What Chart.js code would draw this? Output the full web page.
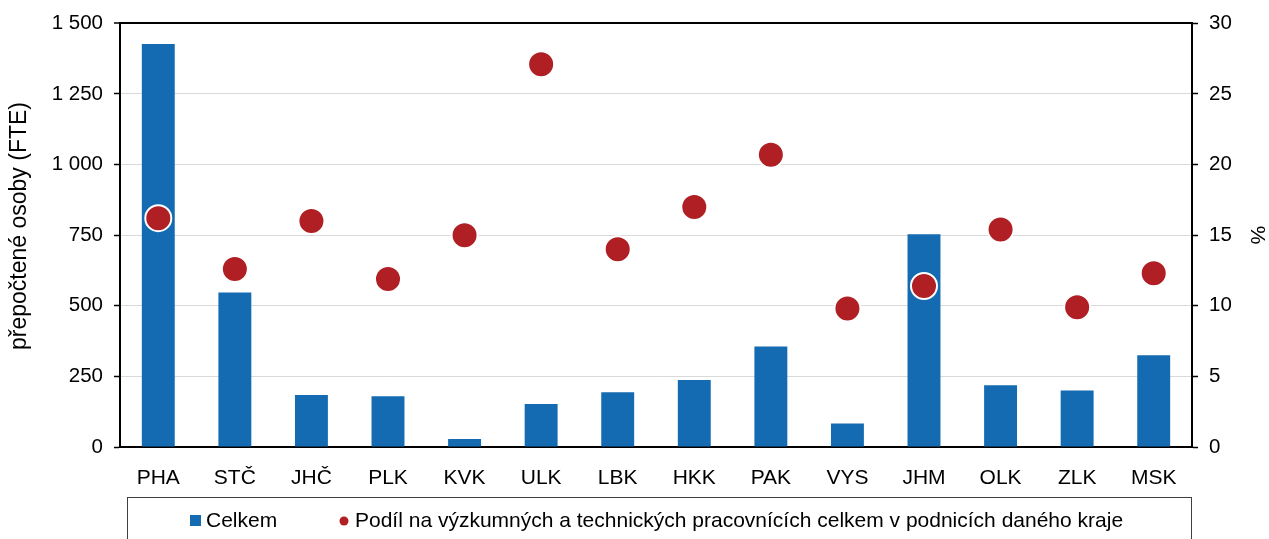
<!DOCTYPE html>
<html>
<head>
<meta charset="utf-8">
<script src="https://cdn.jsdelivr.net/npm/chart.js@4"></script>
<style>
  html, body { margin: 0; padding: 0; background: #fff; }
  #wrap { width: 1269px; height: 539px; }
</style>
</head>
<body>
<div id="wrap"><canvas id="c" width="1269" height="539"></canvas></div>
<script>
const categories = ['PHA','STČ','JHČ','PLK','KVK','ULK','LBK','HKK','PAK','VYS','JHM','OLK','ZLK','MSK'];
const celkem = [1427, 547, 184, 180, 28, 152, 194, 237, 356, 83, 753, 219, 200, 325];
const podil = [16.2, 12.6, 16.0, 11.9, 15.0, 27.1, 14.0, 17.0, 20.7, 9.8, 11.4, 15.4, 9.9, 12.3];
const seriesNames = ['Celkem', 'Podíl na výzkumných a technických pracovnících celkem v podnicích daného kraje'];
const leftTitle = 'přepočtené osoby (FTE)';
const rightTitle = '%';

const BLUE = '#156BB1';
const RED = '#B01F24';
const FONT = "'Liberation Sans', Arial, sans-serif";

const fmt = v => {
  const s = String(Math.round(v));
  return s.replace(/\B(?=(\d{3})+(?!\d))/g, ' ');
};

const legendPlugin = {
  id: 'boxLegend',
  afterDraw(chart) {
    const ctx = chart.ctx;
    const ca = chart.chartArea;
    ctx.save();
    // left axis title
    ctx.save();
    ctx.translate(20, 226);
    ctx.rotate(-Math.PI / 2);
    ctx.font = '23px ' + FONT;
    ctx.fillStyle = '#000';
    ctx.textAlign = 'center';
    ctx.textBaseline = 'middle';
    ctx.fillText(chart.options.scales.y.title.text, 0, 0);
    ctx.restore();

    const top = ca.bottom + 50;
    ctx.strokeStyle = '#404040';
    ctx.lineWidth = 1;
    ctx.strokeRect(127.5, top + 0.5, ca.right - 128, 60);
    const cy = top + 24;
    ctx.font = '21px ' + FONT;
    ctx.textBaseline = 'middle';
    const ds = chart.data.datasets;
    const barDs = ds.find(d => d.type === 'bar');
    const dotDs = ds.find(d => d.type === 'line');
    ctx.fillStyle = barDs.backgroundColor;
    ctx.fillRect(190, cy - 6, 11, 11);
    ctx.fillStyle = '#000';
    ctx.fillText(barDs.label, 206, cy);
    ctx.fillStyle = dotDs.backgroundColor;
    ctx.beginPath();
    ctx.arc(344, cy, 4.5, 0, Math.PI * 2);
    ctx.fill();
    ctx.fillStyle = '#000';
    ctx.fillText(dotDs.label, 355, cy);
    ctx.restore();
  }
};

new Chart(document.getElementById('c'), {
  type: 'bar',
  data: {
    labels: categories,
    datasets: [
      {
        type: 'line',
        label: seriesNames[1],
        data: podil,
        yAxisID: 'y2',
        showLine: false,
        backgroundColor: RED,
        borderColor: '#ffffff',
        pointBackgroundColor: RED,
        pointBorderColor: '#ffffff',
        pointBorderWidth: 2,
        pointRadius: 13,
        order: 0
      },
      {
        type: 'bar',
        label: seriesNames[0],
        data: celkem,
        yAxisID: 'y',
        backgroundColor: BLUE,
        categoryPercentage: 1,
        barPercentage: 0.43,
        order: 1
      }
    ]
  },
  options: {
    responsive: false,
    animation: false,
    events: [],
    layout: { padding: { top: 22, bottom: 42, left: 0, right: 0 } },
    plugins: {
      legend: { display: false },
      tooltip: { enabled: false }
    },
    scales: {
      x: {
        grid: { display: false },
        border: { display: true, color: '#000', width: 2 },
        ticks: { color: '#000', font: { size: 21, family: FONT }, padding: 11, maxRotation: 0, autoSkip: false },
        afterFit(s) { s.height = 50; }
      },
      y: {
        position: 'left',
        min: 0, max: 1500,
        ticks: { stepSize: 250, color: '#000', font: { size: 20.5, family: FONT }, padding: 11, callback: v => fmt(v) },
        grid: {
          color: c => (c.tick && c.tick.value === 1500) ? '#000' : '#d9d9d9',
          lineWidth: c => (c.tick && c.tick.value === 1500) ? 2 : 1,
          tickColor: '#000',
          tickLength: 6,
          tickWidth: 1.5
        },
        border: { display: true, color: '#000', width: 2 },
        title: { display: false, text: leftTitle },
        afterFit(s) { s.width = 120; }
      },
      y2: {
        position: 'right',
        min: 0, max: 30,
        ticks: { stepSize: 5, color: '#000', font: { size: 20.5, family: FONT }, padding: 11 },
        grid: { drawOnChartArea: false, tickColor: '#000', tickLength: 6, tickWidth: 1.5 },
        border: { display: true, color: '#000', width: 2 },
        title: { display: true, text: rightTitle, color: '#000', font: { size: 21, family: FONT }, padding: { top: 0, bottom: 0 } },
        afterFit(s) { s.width = 77; }
      }
    }
  },
  plugins: [legendPlugin]
});
</script>
</body>
</html>
